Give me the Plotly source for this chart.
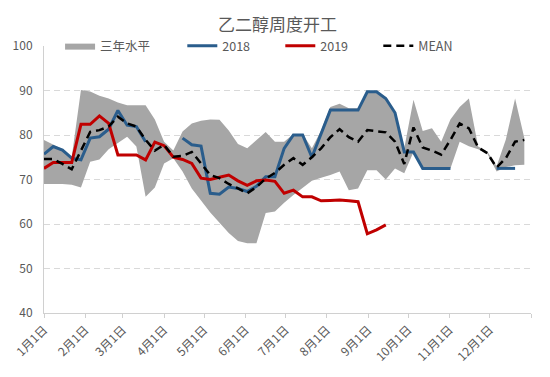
import pandas as pd
import plotly.graph_objects as go

# weekly observation dates (53 points across the year)
dates = pd.date_range("2019-01-01", "2019-12-27", periods=53)

band_upper = [78.9, 77.8, 76.8, 75.0, 90.1, 89.8, 88.8, 88.2, 87.3, 86.7,
              86.7, 86.7, 83.5, 78.5, 76.5, 80.8, 82.6, 83.2, 83.5, 83.4,
              81.0, 78.0, 77.0, 78.9, 80.7, 78.5, 78.5, 80.2, 80.2, 77.0,
              81.0, 86.3, 87.0, 86.0, 86.0, 89.7, 89.7, 88.2, 85.2, 77.0,
              87.9, 80.9, 81.5, 78.5, 83.5, 86.3, 88.2, 77.4, 76.3, 73.0,
              79.0, 88.2, 79.3]
band_lower = [69.0, 69.0, 69.0, 68.8, 68.2, 74.0, 74.5, 76.8, 78.3, 79.6,
              77.4, 66.1, 68.2, 73.6, 74.8, 71.8, 68.0, 65.2, 62.6, 60.3,
              58.0, 56.2, 55.7, 55.7, 62.5, 62.8, 64.8, 66.5, 68.0, 69.7,
              70.4, 71.0, 71.8, 67.6, 68.0, 72.1, 72.1, 70.0, 72.5, 71.4,
              76.2, 72.5, 72.5, 72.5, 72.5, 78.5, 77.5, 76.8, 75.8, 71.8,
              72.8, 73.2, 73.3]
s2018 = [75.7, 77.4, 76.6, 74.8, 74.4, 79.3, 79.6, 81.3, 85.5, 82.2,
         81.9, 78.5, None, None, None, 79.3, 77.8, 77.5, 66.9, 66.7,
         68.3, 68.0, 67.3, 68.5, 70.6, 70.6, 77.0, 80.0, 80.0, 75.0,
         80.3, 85.6, 85.6, 85.6, 85.6, 89.7, 89.7, 88.2, 85.0, 76.2,
         76.2, 72.5, 72.5, 72.5, 72.5, None, None, None, None, 72.5,
         72.5, 72.5, None]
s2019 = [72.5, 73.8, 73.8, 73.8, 82.4, 82.4, 84.3, 82.6, 75.5, 75.5,
         75.5, 74.4, 78.4, 77.6, 75.0, 74.5, 73.6, 70.3, 70.0, 70.5,
         71.0, 69.7, 68.7, 69.7, 69.9, 69.6, 66.9, 67.6, 66.1, 66.1,
         65.2, 65.3, 65.4, 65.2, 65.0, 57.8, 58.7, 59.8] + [None] * 15
s_mean = [74.6, 74.6, 73.5, 72.3, 76.5, 80.7, 81.1, 81.9, 84.1, 82.6,
          81.9, 78.9, 76.5, 77.8, 75.1, 75.3, 76.2, 73.6, 71.0, 70.3,
          69.0, 68.0, 66.9, 68.3, 70.2, 71.5, 73.3, 74.8, 73.3, 75.0,
          77.0, 79.5, 81.3, 79.5, 78.5, 81.1, 80.8, 80.6, 78.5, 73.5,
          81.7, 77.2, 76.5, 75.6, 78.9, 82.6, 81.5, 77.2, 75.9, 72.7,
          74.8, 78.5, 78.9]

tick_vals = ["2019-01-01", "2019-02-01", "2019-03-01", "2019-04-01", "2019-05-01",
             "2019-06-01", "2019-07-01", "2019-08-01", "2019-09-01", "2019-10-01",
             "2019-11-01", "2019-12-01", "2020-01-01"]
tick_text = ["1月1日", "2月1日", "3月1日", "4月1日", "5月1日", "6月1日", "7月1日",
             "8月1日", "9月1日", "10月1日", "11月1日", "12月1日", ""]

FONT = "Noto Sans CJK SC, Noto Sans, sans-serif"
TXT = "#595959"

fig = go.Figure()
fig.add_trace(go.Scatter(x=dates, y=band_lower, mode="lines",
                         line=dict(width=0, color="#a6a6a6"),
                         showlegend=False, hoverinfo="skip"))
fig.add_trace(go.Scatter(x=dates, y=band_upper, mode="lines", name="三年水平",
                         fill="tonexty", fillcolor="#a6a6a6",
                         line=dict(width=0, color="#a6a6a6"), legend="legend"))
fig.add_trace(go.Scatter(x=dates, y=s2018, mode="lines", name="2018",
                         line=dict(width=3, color="#2a5d8c"), legend="legend2"))
fig.add_trace(go.Scatter(x=dates, y=s2019, mode="lines", name="2019",
                         line=dict(width=3, color="#c00000"), legend="legend2"))
fig.add_trace(go.Scatter(x=dates, y=s_mean, mode="lines", name="MEAN",
                         line=dict(width=2.5, color="#000000", dash="8px,5px"),
                         legend="legend2"))

legend_common = dict(orientation="h", y=1.0, xanchor="left", yanchor="middle",
                     bgcolor="rgba(0,0,0,0)", font=dict(size=12.5, color=TXT),
                     itemwidth=30, traceorder="normal")

fig.update_layout(
    width=550, height=377,
    margin=dict(l=36, r=27, t=38, b=72, autoexpand=False),
    paper_bgcolor="white", plot_bgcolor="white",
    font=dict(family=FONT, color=TXT, size=12),
    title=dict(text="乙二醇周度开工", x=0.49, y=0.955, xanchor="center",
               yanchor="middle", font=dict(size=17, color=TXT, family=FONT)),
    legend=dict(x=0.033, **legend_common),
    legend2=dict(x=0.284, entrywidth=53, entrywidthmode="pixels", **legend_common),
    xaxis=dict(type="date", range=["2019-01-01", "2020-01-01"],
               tickvals=tick_vals, ticktext=tick_text, tickangle=-45,
               showgrid=False, showline=True, linecolor="#d0d0d0", linewidth=1,
               ticks="outside", ticklen=4, tickcolor="#d0d0d0",
               tickfont=dict(size=12, color=TXT)),
    yaxis=dict(range=[40, 100], tickvals=[40, 50, 60, 70, 80, 90, 100],
               showgrid=True, gridcolor="#d9d9d9", griddash="6px,4px", gridwidth=1,
               showline=True, linecolor="#d0d0d0", linewidth=1,
               zeroline=False, ticks="", ticklabelstandoff=8,
               tickfont=dict(size=12, color=TXT)),
)

fig.write_html("out.html")
